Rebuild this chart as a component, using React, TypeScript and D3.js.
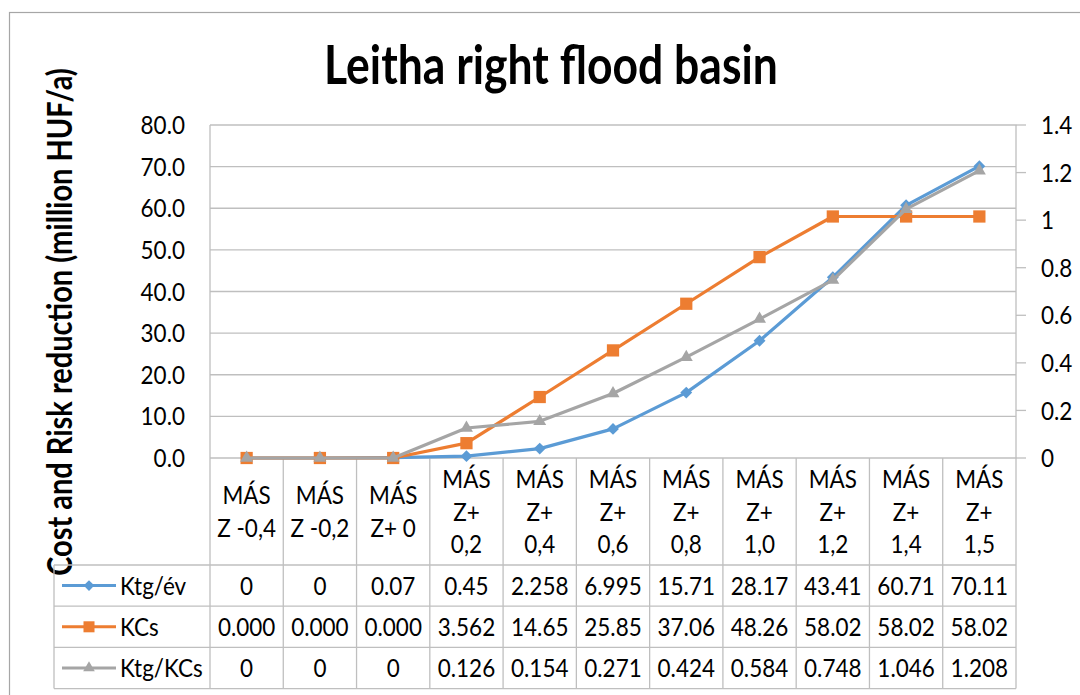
import React from "react";
import * as d3 from "d3";

// Scenario categories (header lines of the data table)
const categories: string[][] = [
  ["MÁS", "Z -0,4"],
  ["MÁS", "Z -0,2"],
  ["MÁS", "Z+ 0"],
  ["MÁS", "Z+", "0,2"],
  ["MÁS", "Z+", "0,4"],
  ["MÁS", "Z+", "0,6"],
  ["MÁS", "Z+", "0,8"],
  ["MÁS", "Z+", "1,0"],
  ["MÁS", "Z+", "1,2"],
  ["MÁS", "Z+", "1,4"],
  ["MÁS", "Z+", "1,5"],
];

// Series values
const ktgEv = [0, 0, 0.07, 0.45, 2.258, 6.995, 15.71, 28.17, 43.41, 60.71, 70.11];
const kcs = [0, 0, 0, 3.562, 14.65, 25.85, 37.06, 48.26, 58.02, 58.02, 58.02];
const ktgKcs = [0, 0, 0, 0.126, 0.154, 0.271, 0.424, 0.584, 0.748, 1.046, 1.208];

// Axis ticks
const leftTicks = [0, 10, 20, 30, 40, 50, 60, 70, 80];
const rightTicks = [0, 0.2, 0.4, 0.6, 0.8, 1, 1.2, 1.4];

const FONT = "Lato, 'Open Sans', sans-serif";
const GRID = "#BFBFBF";
const FS = 22.5; // body text size
const STRETCH = 1.12; // vertical glyph stretch for body text

type SeriesDef = {
  name: string;
  values: number[];
  color: string;
  axis: "left" | "right";
  marker: "diamond" | "square" | "triangle";
  fmt: (v: number) => string;
};

const series: SeriesDef[] = [
  { name: "Ktg/év", values: ktgEv, color: "#5B9BD5", axis: "left", marker: "diamond", fmt: (v) => String(v) },
  { name: "KCs", values: kcs, color: "#ED7D31", axis: "left", marker: "square", fmt: (v) => v.toPrecision(4) },
  { name: "Ktg/KCs", values: ktgKcs, color: "#A5A5A5", axis: "right", marker: "triangle", fmt: (v) => (v === 0 ? "0" : v.toFixed(3)) },
];

function markerPath(kind: SeriesDef["marker"]): string {
  if (kind === "diamond") return d3.symbol(d3.symbolDiamond2, 90)() as string;
  if (kind === "square") return d3.symbol(d3.symbolSquare, 150)() as string;
  return d3.symbol(d3.symbolTriangle2, 120)() as string;
}

// Text centred vertically on y, with slightly taller glyphs
function Label(props: { x: number; y: number; anchor?: "start" | "middle" | "end"; children: React.ReactNode }) {
  return (
    <text
      transform={`translate(${props.x},${props.y}) scale(1,${STRETCH})`}
      dy="0.36em"
      textAnchor={props.anchor ?? "start"}
      fontSize={FS}
      fill="#000"
    >
      {props.children}
    </text>
  );
}

export default function App() {
  const W = 1080;
  const H = 695;
  const plotL = 210;
  const plotR = 1016;
  const plotT = 125;
  const plotB = 458;
  const headerB = 565;
  const rowH = 41.2;
  const tableL = 54;

  const x = d3.scaleBand<number>().domain(d3.range(categories.length)).range([plotL, plotR]);
  const yL = d3.scaleLinear().domain([0, 80]).range([plotB, plotT]);
  const yR = d3.scaleLinear().domain([0, 1.4]).range([plotB, plotT]);
  const cx = (i: number) => (x(i) as number) + x.bandwidth() / 2;

  const tableB = headerB + rowH * series.length;

  return (
    <svg width={W} height={H} style={{ position: "absolute", left: 0, top: 0, background: "#fff" }} fontFamily={FONT}>
      {/* chart frame */}
      <rect x={9.5} y={12.5} width={1200} height={800} fill="#fff" stroke="#A6A6A6" strokeWidth={1.2} />

      {/* title */}
      <text
        transform="translate(551,84) scale(1,1.2)"
        textAnchor="middle"
        fontSize={44.5}
        fontWeight={700}
        fill="#000"
      >
        Leitha right flood basin
      </text>

      {/* y axis title */}
      <text
        transform="translate(72,322) rotate(-90) scale(1,1.2)"
        textAnchor="middle"
        fontSize={29}
        fontWeight={700}
        fill="#000"
      >
        Cost and Risk reduction (million HUF/a)
      </text>

      {/* horizontal gridlines */}
      {leftTicks.map((t) => (
        <line key={"g" + t} x1={plotL} x2={plotR} y1={yL(t)} y2={yL(t)} stroke={GRID} strokeWidth={1.3} />
      ))}
      {/* left tick labels */}
      {leftTicks.map((t) => (
        <Label key={"lt" + t} x={185} y={yL(t)} anchor="end">
          {t.toFixed(1)}
        </Label>
      ))}
      {/* right axis ticks + labels */}
      {rightTicks.map((t) => (
        <g key={"rt" + t}>
          <line x1={plotR} x2={plotR + 10} y1={yR(t)} y2={yR(t)} stroke={GRID} strokeWidth={1.3} />
          <Label x={1041} y={yR(t)}>
            {String(+t.toFixed(1))}
          </Label>
        </g>
      ))}

      {/* data table grid */}
      <line x1={plotL} x2={plotL} y1={plotT} y2={tableB} stroke={GRID} strokeWidth={1.3} />
      <line x1={plotR} x2={plotR} y1={plotT} y2={tableB} stroke={GRID} strokeWidth={1.3} />
      {categories.map((_, i) =>
        i > 0 ? (
          <line key={"v" + i} x1={x(i)} x2={x(i)} y1={plotB} y2={tableB} stroke={GRID} strokeWidth={1.3} />
        ) : null
      )}
      {series.map((_, r) => (
        <line
          key={"h" + r}
          x1={tableL}
          x2={plotR}
          y1={headerB + rowH * r}
          y2={headerB + rowH * r}
          stroke={GRID}
          strokeWidth={1.3}
        />
      ))}
      <line x1={tableL} x2={plotR} y1={tableB} y2={tableB} stroke={GRID} strokeWidth={1.3} />
      <line x1={tableL} x2={tableL} y1={headerB} y2={tableB} stroke={GRID} strokeWidth={1.3} />

      {/* category headers */}
      {categories.map((lines, i) => {
        const lh = 32.5;
        const mid = (plotB + headerB) / 2;
        const start = mid - ((lines.length - 1) * lh) / 2;
        return (
          <g key={"c" + i}>
            {lines.map((ln, k) => (
              <Label key={k} x={cx(i)} y={start + k * lh} anchor="middle">
                {ln}
              </Label>
            ))}
          </g>
        );
      })}

      {/* table rows: legend key + values */}
      {series.map((s, r) => {
        const yc = headerB + rowH * r + rowH / 2;
        return (
          <g key={"row" + s.name}>
            <line x1={62} x2={116} y1={yc} y2={yc} stroke={s.color} strokeWidth={3} />
            <path d={markerPath(s.marker)} transform={`translate(89,${yc}) scale(0.9)`} fill={s.color} />
            <Label x={120} y={yc}>
              {s.name}
            </Label>
            {s.values.map((v, i) => (
              <Label key={i} x={cx(i)} y={yc} anchor="middle">
                {s.fmt(v)}
              </Label>
            ))}
          </g>
        );
      })}

      {/* series lines + markers */}
      {series.map((s) => {
        const yScale = s.axis === "left" ? yL : yR;
        const line = d3
          .line<number>()
          .x((_, i) => cx(i))
          .y((v) => yScale(v));
        return (
          <g key={"s" + s.name}>
            <path d={line(s.values) as string} fill="none" stroke={s.color} strokeWidth={3.2} strokeLinejoin="round" />
            {s.values.map((v, i) => (
              <path key={i} d={markerPath(s.marker)} transform={`translate(${cx(i)},${yScale(v)})`} fill={s.color} />
            ))}
          </g>
        );
      })}
    </svg>
  );
}
